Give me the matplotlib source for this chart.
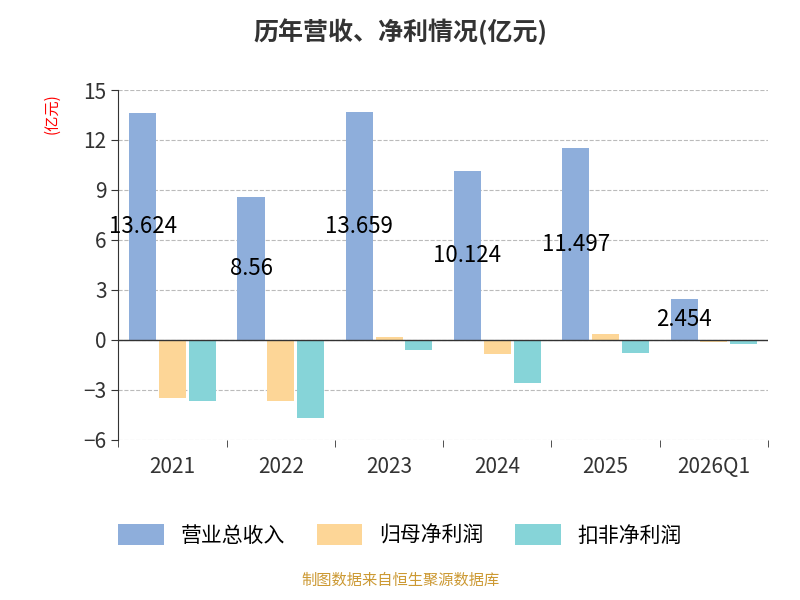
import matplotlib
matplotlib.use("Agg")
import matplotlib.pyplot as plt
import numpy as np

plt.rcParams['font.family'] = ['Noto Sans CJK SC', 'DejaVu Sans']

categories = ["2021", "2022", "2023", "2024", "2025", "2026Q1"]
revenue = [13.624, 8.56, 13.659, 10.124, 11.497, 2.454]
net_profit = [-3.5, -3.7, 0.15, -0.85, 0.35, -0.12]
deducted = [-3.7, -4.7, -0.6, -2.6, -0.8, -0.22]
series_names = ["营业总收入", "归母净利润", "扣非净利润"]
colors = ["#8eaedb", "#fdd697", "#86d4d8"]

fig = plt.figure(figsize=(8, 6), dpi=100)
ax = fig.add_axes([0.148, 0.267, 0.812, 0.583])
x = np.arange(len(categories))
w = 0.25
for i, (vals, c, n) in enumerate(zip([revenue, net_profit, deducted], colors, series_names)):
    ax.bar(x + (i - 1) * w * 1.1, vals, w, color=c, label=n, zorder=2)
for xi, v in zip(x, revenue):
    ax.text(xi - w * 1.1, v / 2, f"{v:g}", ha='center', va='center', fontsize=16, color='black', zorder=3)

ax.set_xlim(-0.5, len(categories) - 0.5)
ax.set_ylim(-6, 15)
ax.set_yticks(range(-6, 16, 3))
ax.set_xticks(x)
ax.set_xticklabels(categories, fontsize=15, color='#333333')
ax.tick_params(axis='y', labelsize=15, colors='#333333', length=5)
ax.tick_params(axis='x', length=5)
ax.grid(axis='y', linestyle='--', color='#bbbbbb', zorder=0)
for s in ['top', 'right', 'bottom']:
    ax.spines[s].set_visible(False)
ax.spines['left'].set_color('#333333')
ax.axhline(0, color='#333333', lw=1, zorder=3)
ax.set_xticks(np.arange(-0.5, len(categories)), minor=True)
ax.tick_params(axis='x', which='major', length=0, pad=12)
ax.tick_params(axis='x', which='minor', length=5, color='#333333')

fig.text(0.065, 0.81, "(亿元)", rotation=90, color='red', fontsize=11, ha='center', va='center')
fig.suptitle("历年营收、净利情况(亿元)", y=0.97, fontsize=18, fontweight='bold', color='#333333')
fig.legend(loc='center', bbox_to_anchor=(0.5, 0.108), ncol=3, frameon=False, fontsize=15,
           handlelength=2.2, handleheight=1.2, columnspacing=1.5)
fig.text(0.5, 0.018, "制图数据来自恒生聚源数据库", ha='center', va='bottom', fontsize=11, color='#cc9933')
fig.savefig("out.png")
